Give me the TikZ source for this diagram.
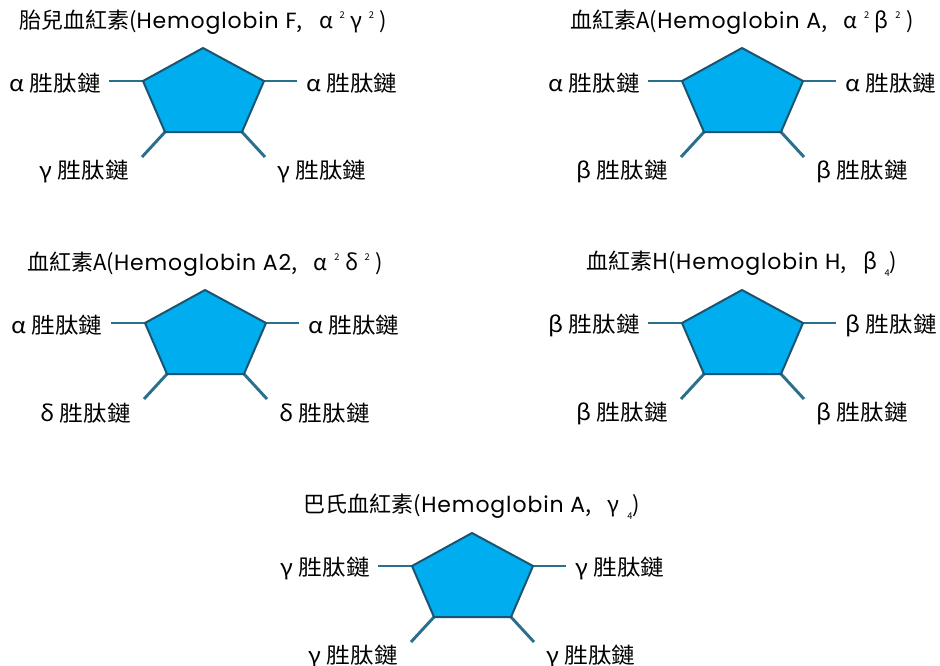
\documentclass[tikz,border=0pt]{standalone}
\usepackage{fontspec}
\setmainfont{Noto Sans CJK TC}
\newfontfamily\latinf[LetterSpace=4]{Poppins}
\definecolor{pentfill}{HTML}{00AEEF}
\definecolor{pentline}{HTML}{1B5470}
\definecolor{linkcol}{HTML}{2A6F8C}
\newcommand\mysupn[1]{\hspace{0.3em}\raisebox{0.8ex}{\fontsize{7}{7}\selectfont #1}\hspace{0.25em}}
\newcommand\mysubn[1]{\hspace{0.35em}\raisebox{-0.55ex}{\fontsize{7}{7}\selectfont #1}}
\newcommand\mycomma{,\hspace{0.75em}}
\newcommand\hemo[8]{%
\begin{scope}[shift={(#2,#3)}]
 \coordinate (#1t) at (0,0);
 \coordinate (#1ul) at (-60,33);
 \coordinate (#1ur) at (61,33);
 \coordinate (#1ll) at (-38,84);
 \coordinate (#1lr) at (39,84);
 \coordinate (#1el) at (-94,33);
 \coordinate (#1er) at (94,33);
 \coordinate (#1ebl) at (-61,109);
 \coordinate (#1ebr) at (62,109);
 \draw[link] (#1ul) -- (#1el);
 \draw[link] (#1ur) -- (#1er);
 \draw[link] (#1ll) -- (#1ebl);
 \draw[link] (#1lr) -- (#1ebr);
 \filldraw[penta] (#1t) -- (#1ur) -- (#1lr) -- (#1ll) -- (#1ul) -- cycle;
 \node[lab,anchor=east] (#1lul) at (-102,35) {\scalebox{1}[0.92]{#5}};
 \node[lab,anchor=west] (#1lur) at (103,35) {\scalebox{1}[0.92]{#6}};
 \node[lab,anchor=east] (#1lll) at (-74,123) {\scalebox{1}[0.92]{#7}};
 \node[lab,anchor=west] (#1llr) at (74,123) {\scalebox{1}[0.92]{#8}};
 \node[ttl] (#1title) at (0,-26) {#4};
\end{scope}}
\begin{document}
\begin{tikzpicture}[x=0.75pt,y=-0.75pt,
  link/.style={draw=linkcol,line width=2.2pt},
  penta/.style={fill=pentfill,draw=pentline,line width=1.5pt,line join=miter},
  lab/.style={inner sep=0pt,font=\fontsize{17.8}{20}\selectfont},
  ttl/.style={inner sep=0pt,font=\fontsize{16.5}{20}\selectfont}]
\useasboundingbox[fill=white] (0,0) rectangle (940,665);
\hemo{a}{203}{48}{胎兒血紅素({\latinf Hemoglobin F}\mycomma α\mysupn{2}γ\mysupn{2})}{α 胜肽鏈}{α 胜肽鏈}{γ 胜肽鏈}{γ 胜肽鏈}
\hemo{b}{742}{48}{血紅素A({\latinf Hemoglobin A}\mycomma α\mysupn{2}β\mysupn{2})}{α 胜肽鏈}{α 胜肽鏈}{β 胜肽鏈}{β 胜肽鏈}
\hemo{c}{205}{290}{血紅素A({\latinf Hemoglobin A2}\mycomma α\mysupn{2}δ\mysupn{2})}{α 胜肽鏈}{α 胜肽鏈}{δ 胜肽鏈}{δ 胜肽鏈}
\hemo{d}{742}{290}{血紅素H({\latinf Hemoglobin H}\mycomma β\mysubn{4})}{β 胜肽鏈}{β 胜肽鏈}{β 胜肽鏈}{β 胜肽鏈}
\hemo{e}{472}{533}{巴氏血紅素({\latinf Hemoglobin A}\mycomma γ\mysubn{4})}{γ 胜肽鏈}{γ 胜肽鏈}{γ 胜肽鏈}{γ 胜肽鏈}
\end{tikzpicture}
\end{document}
